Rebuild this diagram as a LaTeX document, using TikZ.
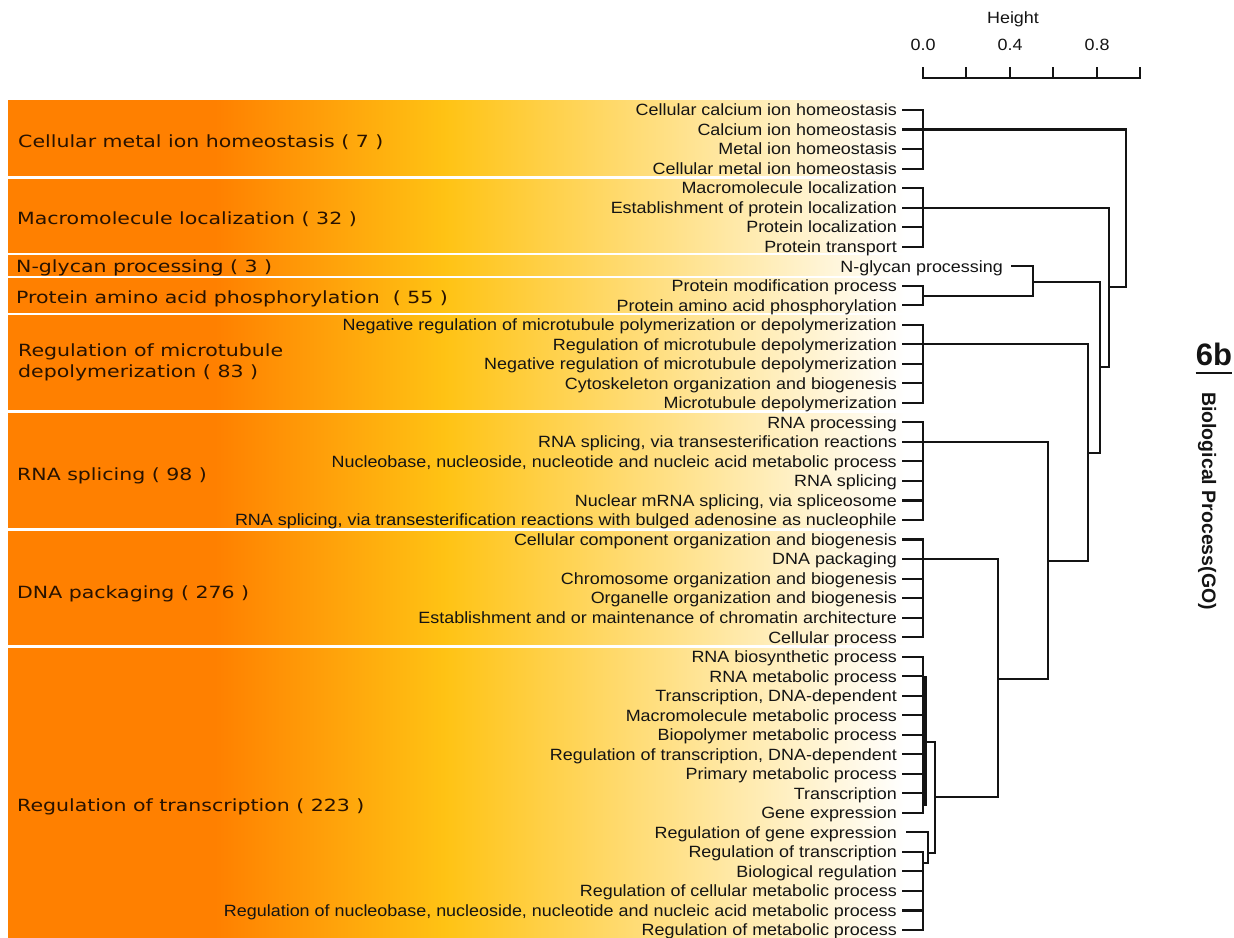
\documentclass[tikz,border=0pt]{standalone}
\usepackage{fontspec}
\setmainfont{Liberation Sans}[FakeStretch=1.1]
\newfontfamily\bandfont{DejaVu Sans}[FakeStretch=1.22]
\newfontfamily\tagfont{Liberation Sans}
\definecolor{deeporange}{RGB}{255,128,0}
\definecolor{amber}{RGB}{255,195,20}
\definecolor{inkgray}{RGB}{20,20,20}
\definecolor{bandink}{RGB}{40,18,0}

\begin{document}
\begin{tikzpicture}[x=1pt, y=-1pt,
    rowlab/.style={anchor=east, inner sep=0pt, text height=11.7pt, text depth=0pt, text=inkgray, font=\fontsize{16.3}{19}\selectfont},
    axlab/.style={inner sep=0pt, text height=11.7pt, text depth=0pt, text=inkgray, font=\fontsize{16.3}{19}\selectfont},
    bandlab/.style={anchor=west, inner sep=0pt, text height=12pt, text depth=0pt, text=bandink, font=\bandfont\fontsize{16.8}{21}\selectfont},
    link/.style={line width=2.1pt, draw=inkgray, line cap=rect}]
    \useasboundingbox (0,0) rectangle (1234,937);

    % Category bands
    \fill[deeporange] (8,100) rectangle (216,945);
    \shade[left color=deeporange, right color=amber] (215,100) rectangle (446,945);
    \shade[left color=amber, right color=white] (445,100) rectangle (905,945);
    \foreach \yg in {177.5, 254, 277, 314, 411.5, 529.5, 646.5}
        \draw[white, line width=2.6pt] (0,\yg) -- (910,\yg);

    % Band labels
    \node[bandlab] (b1) at (18,141) {Cellular metal ion homeostasis ( 7 )};
    \node[bandlab] (b2) at (17,218) {Macromolecule localization ( 32 )};
    \node[bandlab] (b3) at (16,266) {N-glycan processing ( 3 )};
    \node[bandlab] (b4) at (16,297) {Protein amino acid phosphorylation\ \ ( 55 )};
    \node[bandlab, align=left, text height=] (b5) at (18,361) {Regulation of microtubule\\depolymerization ( 83 )};
    \node[bandlab] (b6) at (17,474) {RNA splicing ( 98 )};
    \node[bandlab] (b7) at (17,592) {DNA packaging ( 276 )};
    \node[bandlab] (b8) at (17,805) {Regulation of transcription ( 223 )};

    % Height axis
    \coordinate (h0) at (923,78);
    \coordinate (h1) at (1140,78);
    \draw[link] (h0) -- (h1);
    \foreach \k in {0,...,5}
        \draw[link] ([xshift=\k*43.4pt]h0) -- ++(0,-10);
    \node[axlab] (ax0) at (923,45) {0.0};
    \node[axlab] (ax4) at (1010,45) {0.4};
    \node[axlab] (ax8) at (1097,45) {0.8};
    \node[axlab] (axname) at (1013,18) {Height};

    % GO term rows
    \foreach \lab [count=\i] in {Cellular calcium ion homeostasis, Calcium ion homeostasis,
        Metal ion homeostasis, Cellular metal ion homeostasis, Macromolecule localization,
        Establishment of protein localization, Protein localization, Protein transport,
        N-glycan processing, Protein modification process, Protein amino acid phosphorylation,
        Negative regulation of microtubule polymerization or depolymerization,
        Regulation of microtubule depolymerization,
        Negative regulation of microtubule depolymerization,
        Cytoskeleton organization and biogenesis, Microtubule depolymerization,
        RNA processing, {RNA splicing, via transesterification reactions},
        {Nucleobase, nucleoside, nucleotide and nucleic acid metabolic process},
        RNA splicing, {Nuclear mRNA splicing, via spliceosome},
        {RNA splicing, via transesterification reactions with bulged adenosine as nucleophile},
        Cellular component organization and biogenesis, DNA packaging,
        Chromosome organization and biogenesis, Organelle organization and biogenesis,
        Establishment and or maintenance of chromatin architecture, Cellular process,
        RNA biosynthetic process, RNA metabolic process, {Transcription, DNA-dependent},
        Macromolecule metabolic process, Biopolymer metabolic process,
        {Regulation of transcription, DNA-dependent}, Primary metabolic process,
        Transcription, Gene expression, Regulation of gene expression,
        Regulation of transcription, Biological regulation,
        Regulation of cellular metabolic process,
        {Regulation of nucleobase, nucleoside, nucleotide and nucleic acid metabolic process},
        Regulation of metabolic process} {
        \pgfmathsetmacro{\xe}{ifthenelse(\i==9,1003,897)}
        \node[rowlab] (r\i) at (\xe,{110+(\i-1)*19.524}) {\lab};
    }

    % Leaf ticks and leaf clusters
    \foreach \i in {1,...,8,10,11,...,37,39,40,...,43}
        \draw[link] ([xshift=6pt]r\i.east) -- (r\i.east -| h0);
    \foreach \a/\b in {1/4, 5/8, 10/11, 12/16, 17/22, 23/28, 29/37, 39/43}
        \draw[link] (r\a.east -| h0) -- (r\b.east -| h0);

    % Merge points
    \coordinate (gA) at (r2.east -| h0);
    \coordinate (gB) at (r6.east -| h0);
    \coordinate (gP) at (923,296);
    \coordinate (gM) at (r13.east -| h0);
    \coordinate (gR) at (r18.east -| h0);
    \coordinate (gD) at (r24.east -| h0);
    \coordinate (ta) at (925,742);
    \coordinate (tb) at (928,853);
    \coordinate (tc) at (923,863);
    \coordinate (gT) at (935,797);
    \coordinate (m1) at (1033,282);
    \coordinate (m2) at (998,679);
    \coordinate (m3) at (1048,561);
    \coordinate (m4) at (1088,453);
    \coordinate (m5) at (1100,367);
    \coordinate (m6) at (1109,287);
    \coordinate (m7) at (1126,208);

    % Dendrogram
    \draw[link] ([xshift=10pt]r38.east) -| (tb) |- (tc);
    \draw[link] (ta) -| (gT) |- (tb);
    \draw[line width=3.4pt, inkgray] (ta |- r30.east) -- (925,806);
    \draw[link] ([xshift=9pt]r9.east) -| (m1) |- (gP);
    \draw[link] (gD) -| (m2) |- (gT);
    \draw[link] (gR) -| (m3) |- (m2);
    \draw[link] (gM) -| (m4) |- (m3);
    \draw[link] (m1) -| (m5) |- (m4);
    \draw[link] (gB) -| (m6) |- (m5);
    \draw[link] (gA) -| (m7) |- (m6);

    % Panel tag
    \node[font=\tagfont\bfseries\fontsize{31}{31}\selectfont, inner sep=0pt, anchor=base, text=inkgray] (tag) at (1214,365) {6b};
    \draw[line width=2.8pt, inkgray] ([yshift=-8pt]tag.base west) -- ([yshift=-8pt]tag.base east);
    \node[font=\tagfont\bfseries\fontsize{19.5}{20}\selectfont, rotate=-90, inner sep=0pt, text=inkgray] (bp) at (1207,501) {Biological Process(GO)};
\end{tikzpicture}
\end{document}
